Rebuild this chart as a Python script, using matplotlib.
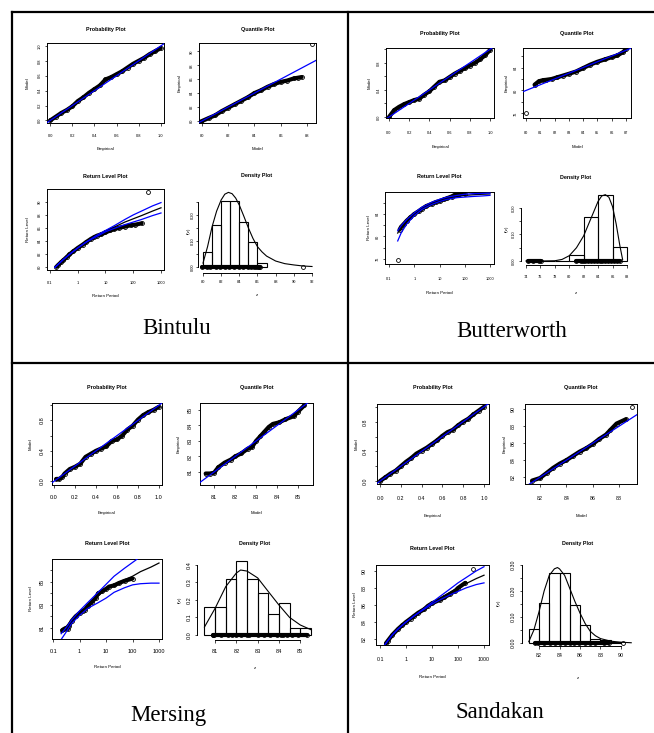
import numpy as np
import matplotlib
matplotlib.use("Agg")
import matplotlib.pyplot as plt
from matplotlib.lines import Line2D

W, H = 654, 733
PX = 0.72  # points per pixel at 100 dpi
plt.rcParams['font.family'] = ['Liberation Sans', 'DejaVu Sans']

# ---------------- data ----------------
pp_ticks = [0.0, 0.2, 0.4, 0.6, 0.8, 1.0]
pp_labels_all = ['0.0', '0.2', '0.4', '0.6', '0.8', '1.0']
pp_labels_sparse = ['0.0', '', '0.4', '', '0.8', '']
rl_ticks = [0.1, 1, 10, 100, 1000]
rl_labels = ['0.1', '1', '10', '100', '1000']

# Bintulu
bin_pp_emp = [0.0, 0.05, 0.1, 0.15, 0.2, 0.25, 0.3, 0.35, 0.4, 0.45, 0.5, 0.55, 0.6, 0.65, 0.7, 0.75, 0.8, 0.85, 0.9, 0.95, 1.0]
bin_pp_mod = [0.0, 0.05, 0.1, 0.14, 0.19, 0.26, 0.31, 0.37, 0.42, 0.47, 0.55, 0.58, 0.62, 0.66, 0.71, 0.76, 0.8, 0.84, 0.89, 0.93, 0.97]
bin_qq_mod = [79.9, 80.5, 81.0, 81.5, 82.0, 82.5, 83.0, 83.5, 84.0, 84.5, 85.0, 85.5, 86.0, 86.5, 87.0, 87.3, 87.6, 88.4]
bin_qq_emp = [79.9, 80.4, 80.8, 81.4, 81.9, 82.4, 82.9, 83.4, 84.0, 84.4, 84.9, 85.3, 85.6, 85.8, 86.1, 86.2, 86.3, 91.0]
bin_rl_per = [0.17, 0.2, 0.25, 0.3, 0.4, 0.5, 0.7, 1.0, 1.5, 2.0, 3.0, 4.0, 5.0, 7.0, 10.0, 15.0, 20.0, 30.0, 50.0, 80.0, 120.0, 200.0, 340.0]
bin_rl_lev = [80.0, 80.3, 80.7, 81.0, 81.5, 81.9, 82.4, 82.9, 83.4, 83.8, 84.3, 84.6, 84.8, 85.0, 85.3, 85.6, 85.8, 86.0, 86.2, 86.4, 86.5, 86.7, 91.5]
bin_rl_T = [0.15, 0.2, 0.3, 0.5, 1, 2, 5, 10, 20, 50, 100, 200, 500, 1000]
bin_rl_fit = [79.9, 80.4, 81.1, 81.9, 82.9, 83.8, 84.8, 85.5, 86.1, 86.9, 87.4, 87.9, 88.6, 89.1]
bin_rl_up = [79.9, 80.4, 81.1, 81.9, 82.9, 83.8, 84.9, 85.6, 86.3, 87.3, 88.0, 88.6, 89.4, 89.9]
bin_rl_lo = [79.9, 80.4, 81.1, 81.9, 82.9, 83.8, 84.7, 85.4, 85.9, 86.5, 86.9, 87.3, 87.9, 88.3]
bin_hist_edges = [80, 81, 82, 83, 84, 85, 86, 87]
bin_hist = [0.058, 0.162, 0.254, 0.254, 0.173, 0.096, 0.015]
bin_dens_z = [80, 80.5, 81, 81.5, 82, 82.4, 82.8, 83.2, 83.6, 84, 84.5, 85, 85.5, 86, 86.5, 87, 88, 89, 90, 91, 92]
bin_dens_f = [0.015, 0.078, 0.155, 0.215, 0.258, 0.28, 0.287, 0.282, 0.265, 0.238, 0.195, 0.15, 0.11, 0.078, 0.058, 0.042, 0.023, 0.013, 0.008, 0.004, 0.002]

# Butterworth
but_pp_emp = [0.0, 0.05, 0.1, 0.15, 0.2, 0.25, 0.3, 0.35, 0.4, 0.45, 0.5, 0.55, 0.6, 0.65, 0.7, 0.75, 0.8, 0.85, 0.9, 0.95, 1.0]
but_pp_mod = [0.0, 0.1, 0.15, 0.19, 0.22, 0.25, 0.27, 0.33, 0.38, 0.45, 0.52, 0.54, 0.59, 0.64, 0.68, 0.72, 0.76, 0.8, 0.85, 0.91, 0.99]
but_qq_mod = [80.0, 80.6, 80.9, 81.2, 81.4, 81.8, 82.2, 82.6, 83.0, 83.5, 84.0, 84.5, 85.0, 85.5, 86.0, 86.4, 86.8, 87.0]
but_qq_emp = [76.0, 81.0, 81.6, 81.8, 81.85, 82.0, 82.3, 82.6, 82.9, 83.3, 83.9, 84.5, 85.0, 85.4, 85.8, 86.1, 86.7, 87.2]
but_rl_per = [0.22, 0.26, 0.3, 0.4, 0.5, 0.7, 1.0, 1.5, 2.0, 3.0, 5.0, 7.0, 10.0, 15.0, 20.0, 30.0, 40.0, 60.0, 100.0]
but_rl_lev = [75.8, 81.2, 81.7, 82.3, 82.8, 83.4, 84.0, 84.5, 84.9, 85.4, 85.8, 86.1, 86.3, 86.6, 86.8, 87.1, 87.4, 87.5, 87.6]
but_rl_T = [0.22, 0.3, 0.5, 1, 2, 5, 10, 20, 50, 100, 200, 500, 1000]
but_rl_fit = [80.6, 81.6, 82.8, 84.0, 85.0, 85.9, 86.4, 86.8, 87.1, 87.3, 87.4, 87.5, 87.55]
but_rl_up = [81.0, 81.9, 83.0, 84.2, 85.2, 86.1, 86.6, 87.0, 87.3, 87.5, 87.6, 87.65, 87.7]
but_rl_lo = [79.2, 80.6, 82.2, 83.7, 84.8, 85.7, 86.2, 86.6, 86.9, 87.0, 87.1, 87.2, 87.3]
but_hist_edges = [74, 76, 78, 80, 82, 84, 86, 88]
but_hist = [0.004, 0.0, 0.0, 0.023, 0.164, 0.249, 0.053]
but_dens_z = [74, 76, 78, 79, 80, 81, 82, 83, 84, 84.5, 85, 85.5, 86, 86.5, 87, 87.4]
but_dens_f = [0.0, 0.0, 0.001, 0.006, 0.02, 0.05, 0.095, 0.16, 0.225, 0.245, 0.25, 0.24, 0.205, 0.14, 0.06, 0.005]
but_rug = [74.3, 75.0, 75.8, 76.1, 80.9, 81.6, 81.9, 82.2, 82.6, 83.0, 83.4, 83.8, 84.2, 84.6, 85.0, 85.4, 85.8, 86.2, 86.6, 87.0]

# Mersing
mer_pp_emp = [0.02, 0.05, 0.08, 0.1, 0.15, 0.2, 0.25, 0.3, 0.35, 0.4, 0.45, 0.5, 0.55, 0.6, 0.65, 0.7, 0.75, 0.8, 0.85, 0.9, 0.95, 1.0]
mer_pp_mod = [0.03, 0.03, 0.06, 0.1, 0.16, 0.19, 0.23, 0.32, 0.36, 0.4, 0.43, 0.46, 0.53, 0.55, 0.6, 0.68, 0.73, 0.81, 0.87, 0.91, 0.94, 0.98]
mer_qq_mod = [80.6, 80.8, 81.0, 81.2, 81.5, 81.8, 82.0, 82.3, 82.6, 82.8, 83.0, 83.2, 83.4, 83.6, 83.8, 84.1, 84.4, 84.8, 85.0, 85.3]
mer_qq_emp = [80.9, 80.9, 80.95, 81.3, 81.6, 81.8, 82.0, 82.2, 82.5, 82.6, 83.0, 83.3, 83.6, 83.9, 84.1, 84.2, 84.4, 84.6, 84.9, 85.3]
mer_rl_per = [0.22, 0.25, 0.3, 0.35, 0.4, 0.5, 0.7, 1.0, 1.3, 1.6, 2.0, 3.0, 4.0, 5.0, 7.0, 10.0, 13.0, 20.0, 30.0, 50.0, 100.0]
mer_rl_lev = [80.8, 80.9, 81.0, 80.9, 81.2, 81.6, 82.0, 82.3, 82.5, 82.6, 82.9, 83.3, 83.6, 84.0, 84.2, 84.4, 84.6, 84.7, 84.9, 85.1, 85.3]
mer_rl_T = [0.2, 0.3, 0.5, 1, 2, 5, 10, 20, 50, 100, 200, 500, 1000]
mer_rl_fit = [80.6, 81.1, 81.7, 82.3, 82.9, 83.8, 84.4, 84.8, 85.2, 85.5, 85.9, 86.3, 86.65]
mer_rl_up = [80.5, 81.0, 81.7, 82.5, 83.2, 84.1, 84.8, 85.5, 86.2, 86.7, 87.2, 87.9, 88.4]
mer_rl_lo = [80.0, 80.6, 81.4, 82.1, 82.7, 83.2, 83.6, 84.1, 84.5, 84.75, 84.85, 84.9, 84.9]
mer_hist_edges = [80.5, 81.0, 81.5, 82.0, 82.5, 83.0, 83.5, 84.0, 84.5, 85.0, 85.5]
mer_hist = [0.16, 0.16, 0.32, 0.42, 0.32, 0.24, 0.12, 0.18, 0.04, 0.04]
mer_dens_z = [80.5, 81.0, 81.5, 82.0, 82.2, 82.5, 83.0, 83.5, 84.0, 84.5, 85.0, 85.5]
mer_dens_f = [0.045, 0.152, 0.276, 0.354, 0.371, 0.365, 0.326, 0.248, 0.171, 0.10, 0.057, 0.03]

# Sandakan
san_pp_emp = [0.0, 0.05, 0.1, 0.15, 0.2, 0.25, 0.3, 0.35, 0.4, 0.45, 0.5, 0.55, 0.6, 0.65, 0.7, 0.75, 0.8, 0.85, 0.9, 0.95, 1.0]
san_pp_mod = [0.0, 0.05, 0.1, 0.14, 0.2, 0.26, 0.31, 0.37, 0.41, 0.45, 0.5, 0.55, 0.61, 0.66, 0.69, 0.75, 0.8, 0.84, 0.9, 0.95, 1.0]
san_qq_mod = [81.4, 82.0, 82.5, 83.0, 83.5, 84.0, 84.5, 85.0, 85.5, 86.0, 86.5, 87.0, 87.3, 87.8, 88.5, 89.0]
san_qq_emp = [81.6, 81.9, 82.5, 83.1, 83.6, 84.0, 84.5, 85.0, 85.4, 85.9, 86.5, 87.0, 87.5, 88.3, 88.8, 90.2]
san_rl_per = [0.17, 0.2, 0.3, 0.5, 0.7, 1.0, 1.5, 2.0, 3.0, 5.0, 7.0, 10.0, 20.0, 30.0, 50.0, 80.0, 100.0, 190.0, 380.0]
san_rl_lev = [81.5, 81.8, 82.5, 83.2, 83.6, 84.0, 84.4, 84.7, 85.1, 85.5, 85.9, 86.2, 86.6, 86.9, 87.3, 87.7, 88.0, 88.6, 90.2]
san_rl_T = [0.15, 0.2, 0.3, 0.5, 1, 2, 5, 10, 20, 50, 100, 200, 500, 1000]
san_rl_fit = [81.3, 81.8, 82.5, 83.2, 84.0, 84.7, 85.6, 86.2, 86.8, 87.5, 88.0, 88.5, 89.1, 89.5]
san_rl_up = [81.3, 81.8, 82.5, 83.2, 84.0, 84.7, 85.6, 86.3, 87.0, 87.9, 88.6, 89.2, 90.0, 90.5]
san_rl_lo = [81.3, 81.8, 82.5, 83.2, 84.0, 84.7, 85.5, 86.1, 86.6, 87.2, 87.6, 88.0, 88.4, 88.6]
san_hist_edges = [81, 82, 83, 84, 85, 86, 87, 88, 89, 90]
san_hist = [0.053, 0.153, 0.268, 0.268, 0.146, 0.069, 0.015, 0.01, 0.003]
san_dens_z = [81, 81.5, 82, 82.5, 83, 83.5, 83.8, 84, 84.5, 85, 85.5, 86, 86.5, 87, 87.5, 88, 89, 90, 91]
san_dens_f = [0.005, 0.05, 0.12, 0.2, 0.26, 0.285, 0.29, 0.285, 0.26, 0.21, 0.16, 0.115, 0.075, 0.045, 0.028, 0.017, 0.007, 0.003, 0.001]

# ---------------- drawing ----------------
fig = plt.figure(figsize=(W / 100, H / 100), dpi=100)
fig.patch.set_facecolor('white')


def add_ax(box):
    x0, y0, x1, y1 = box
    return fig.add_axes([x0 / W, 1 - y1 / H, (x1 - x0) / W, (y1 - y0) / H])


def band(ax, x, y):
    # overlapping open circles; consecutive close points form a thick band
    pts = ax.transData.transform(np.column_stack([x, y]))
    d = np.hypot(*np.diff(pts, axis=0).T)
    xs, ys = [x[0]], [y[0]]
    for i in range(1, len(x)):
        if d[i - 1] > 12:
            xs.append(np.nan)
            ys.append(np.nan)
        xs.append(x[i])
        ys.append(y[i])
    ax.plot(xs, ys, color='black', lw=3.0, solid_capstyle='round', zorder=2)
    ax.plot(x, y, 'o', ms=2.8, mfc='none', mec='black', mew=0.6, zorder=3)


def finish(ax, st, title, xlab, ylab, xt, xtl, yt, ytl, dens=False):
    ts = st['tick']
    xd, yd = (st['dxd'], st['dyd']) if dens else (st['xd'], st['yd'])
    xo, yo = (st['dxlab'], st['dylab']) if dens else (st['xlab'], st['ylab'])
    ax.set_xticks(xt)
    ax.set_xticklabels(xtl)
    ax.set_yticks(yt)
    ax.set_yticklabels(ytl, rotation=90, va='center')
    ax.minorticks_off()
    ax.tick_params(axis='x', labelsize=ts, length=1.8, width=0.5, pad=max((xd - 2.5 - ts / 2) * PX, 0.3))
    ax.tick_params(axis='y', labelsize=ts, length=1.8, width=0.5, pad=max((yd - 2.5 - ts / 2) * PX, 0.3))
    for s in ax.spines.values():
        s.set_linewidth(0.7)
    if dens:
        ax.spines['top'].set_visible(False)
        ax.spines['right'].set_visible(False)
        ax.spines['left'].set_bounds(yt[0], yt[-1])
        ax.spines['bottom'].set_bounds(xt[0], xt[-1])
    ax.annotate(title, (0.5, 1), xycoords='axes fraction', xytext=(0, st['title'] * PX),
                textcoords='offset points', ha='center', va='center', fontsize=3.9, fontweight='bold')
    ax.annotate(xlab, (0.5, 0), xycoords='axes fraction', xytext=(0, -xo * PX),
                textcoords='offset points', ha='center', va='center', fontsize=3.2)
    ax.annotate(ylab, (0, 0.5), xycoords='axes fraction', xytext=(-yo * PX, 0),
                textcoords='offset points', ha='center', va='center', fontsize=3.2, rotation=90)


def prob_plot(box, st, emp, mod, xlim, ylim, ylabels):
    ax = add_ax(box)
    ax.set_xlim(xlim)
    ax.set_ylim(ylim)
    band(ax, emp, mod)
    ax.plot([-1, 2], [-1, 2], color='blue', lw=0.9, zorder=4)
    finish(ax, st, 'Probability Plot', 'Empirical', 'Model', pp_ticks, pp_labels_all, pp_ticks, ylabels)


def quant_plot(box, st, mod, emp, xlim, ylim, xt, yt, ytl):
    ax = add_ax(box)
    ax.set_xlim(xlim)
    ax.set_ylim(ylim)
    band(ax, mod, emp)
    ax.plot([0, 200], [0, 200], color='blue', lw=0.9, zorder=4)
    finish(ax, st, 'Quantile Plot', 'Model', 'Empirical', xt, [str(v) for v in xt], yt, ytl)


def rl_plot(box, st, per, lev, T, fit, up, lo, xlim, ylim, yt, ytl):
    ax = add_ax(box)
    ax.set_xscale('log')
    ax.set_xlim(xlim)
    ax.set_ylim(ylim)
    band(ax, per, lev)
    ax.plot(T, fit, color='black', lw=0.9, zorder=4)
    ax.plot(T, up, color='blue', lw=0.9, zorder=4)
    ax.plot(T, lo, color='blue', lw=0.9, zorder=4)
    finish(ax, st, 'Return Level Plot', 'Return Period', 'Return Level', rl_ticks, rl_labels, yt, ytl)


def dens_plot(box, st, edges, heights, z, f, rug, xlim, ylim, xt, yt, ytl):
    ax = add_ax(box)
    ax.set_xlim(xlim)
    ax.set_ylim(ylim)
    ax.bar(edges[:-1], heights, width=np.diff(edges), align='edge', fill=False,
           edgecolor='black', lw=0.8, zorder=2)
    ax.plot(z, f, color='black', lw=0.8, zorder=4)
    band(ax, rug, [0.0] * len(rug))
    finish(ax, st, 'Density Plot', 'z', 'f(z)', xt, [str(v) for v in xt], yt, ytl, dens=True)


bin_st = dict(tick=2.9, title=13, xlab=26, ylab=19, xd=12, yd=7, dxlab=22, dylab=9, dxd=8, dyd=5)
but_st = dict(tick=2.8, title=15, xlab=29, ylab=16.5, xd=14, yd=7, dxlab=28, dylab=14, dxd=11, dyd=7)
mer_st = dict(tick=4.0, title=15.5, xlab=28, ylab=21, xd=12, yd=9, dxlab=28, dylab=17, dxd=11, dyd=7)
san_st = dict(tick=3.8, title=16.5, xlab=32, ylab=20.5, xd=14, yd=11, dxlab=32, dylab=23, dxd=9, dyd=8)

# Bintulu
prob_plot((47, 43, 164, 123), bin_st, bin_pp_emp, bin_pp_mod, (-0.03, 1.03), (-0.035, 1.04), pp_labels_all)
quant_plot((199, 43, 316, 123), bin_st, bin_qq_mod, bin_qq_emp, (79.77, 88.7), (79.7, 91.2),
           [80, 82, 84, 86, 88], [80, 82, 84, 86, 88, 90], ['80', '82', '84', '86', '88', '90'])
rl_plot((47, 189, 164, 270), bin_st, bin_rl_per, bin_rl_lev, bin_rl_T, bin_rl_fit, bin_rl_up, bin_rl_lo,
        (0.078, 1283), (79.5, 92.0), [80, 82, 84, 86, 88, 90], ['80', '82', '84', '86', '88', '90'])
dens_plot((198, 189, 316, 273), bin_st, bin_hist_edges, bin_hist, bin_dens_z, bin_dens_f, bin_qq_emp,
          (79.45, 92.44), (-0.023, 0.30), [80, 82, 84, 86, 88, 90, 92],
          [0.0, 0.05, 0.10, 0.15, 0.20, 0.25], ['0.00', '', '0.10', '', '0.20', ''])

# Butterworth
prob_plot((386, 48, 494, 118), but_st, but_pp_emp, but_pp_mod, (-0.03, 1.04), (-0.015, 1.02), pp_labels_sparse)
quant_plot((523, 48, 631, 118), but_st, but_qq_mod, but_qq_emp, (79.79, 87.35), (75.2, 87.4),
           [80, 81, 82, 83, 84, 85, 86, 87], [76, 78, 80, 82, 84, 86], ['76', '', '80', '', '84', ''])
rl_plot((385, 192, 494, 264), but_st, but_rl_per, but_rl_lev, but_rl_T, but_rl_fit, but_rl_up, but_rl_lo,
        (0.069, 1440), (75.1, 87.9), [76, 78, 80, 82, 84, 86], ['76', '', '80', '', '84', ''])
dens_plot((521, 192, 630, 265), but_st, but_hist_edges, but_hist, but_dens_z, but_dens_f, but_rug,
          (73.31, 88.42), (-0.015, 0.26), [74, 76, 78, 80, 82, 84, 86, 88],
          [0.0, 0.05, 0.10, 0.15, 0.20], ['0.00', '', '0.10', '', '0.20'])

# Mersing
prob_plot((52, 403, 162, 485), mer_st, mer_pp_emp, mer_pp_mod, (-0.02, 1.03), (-0.05, 1.03), pp_labels_sparse)
quant_plot((200, 403, 313, 485), mer_st, mer_qq_mod, mer_qq_emp, (80.33, 85.71), (80.16, 85.45),
           [81, 82, 83, 84, 85], [81, 82, 83, 84, 85], ['81', '82', '83', '84', '85'])
rl_plot((52, 559, 162, 639), mer_st, mer_rl_per, mer_rl_lev, mer_rl_T, mer_rl_fit, mer_rl_up, mer_rl_lo,
        (0.09, 1300), (80.04, 87.0), [81, 82, 83, 84, 85, 86], ['81', '', '83', '', '85', ''])
dens_plot((197, 559, 313, 640), mer_st, mer_hist_edges, mer_hist, mer_dens_z, mer_dens_f, mer_qq_emp,
          (80.15, 85.6), (-0.029, 0.434), [81, 82, 83, 84, 85],
          [0.0, 0.1, 0.2, 0.3, 0.4], ['0.0', '0.1', '0.2', '0.3', '0.4'])

# Sandakan
prob_plot((377, 404, 489, 484), san_st, san_pp_emp, san_pp_mod, (-0.03, 1.05), (-0.04, 1.04), pp_labels_sparse)
quant_plot((525, 404, 637, 484), san_st, san_qq_mod, san_qq_emp, (80.86, 89.35), (81.2, 90.6),
           [82, 84, 86, 88], [82, 84, 86, 88, 90], ['82', '84', '86', '88', '90'])
rl_plot((376, 565, 489, 645), san_st, san_rl_per, san_rl_lev, san_rl_T, san_rl_fit, san_rl_up, san_rl_lo,
        (0.07, 1556), (81.3, 90.7), [82, 84, 86, 88, 90], ['82', '84', '86', '88', '90'])
dens_plot((522, 560, 634, 646), san_st, san_hist_edges, san_hist, san_dens_z, san_dens_f, san_qq_emp,
          (80.34, 91.27), (-0.0115, 0.319), [82, 84, 86, 88, 90],
          [0.0, 0.05, 0.10, 0.15, 0.20, 0.25, 0.30], ['0.00', '', '0.10', '', '0.20', '', '0.30'])

# station names
for name, x, y in [('Bintulu', 177, 328), ('Butterworth', 512, 332), ('Mersing', 168, 715), ('Sandakan', 500, 713)]:
    fig.text(x / W, 1 - y / H, name, ha='center', va='center', fontsize=16.5,
             family=['Liberation Serif', 'DejaVu Serif'])

# table rules
for x0, y0, x1, y1 in [(12, 12, 654, 12), (12, 363, 654, 363), (12, 12, 12, 733), (348, 12, 348, 733)]:
    fig.add_artist(Line2D([x0 / W, x1 / W], [1 - y0 / H, 1 - y1 / H], transform=fig.transFigure,
                          color='black', lw=1.6))

fig.savefig('out.png', dpi=100)
